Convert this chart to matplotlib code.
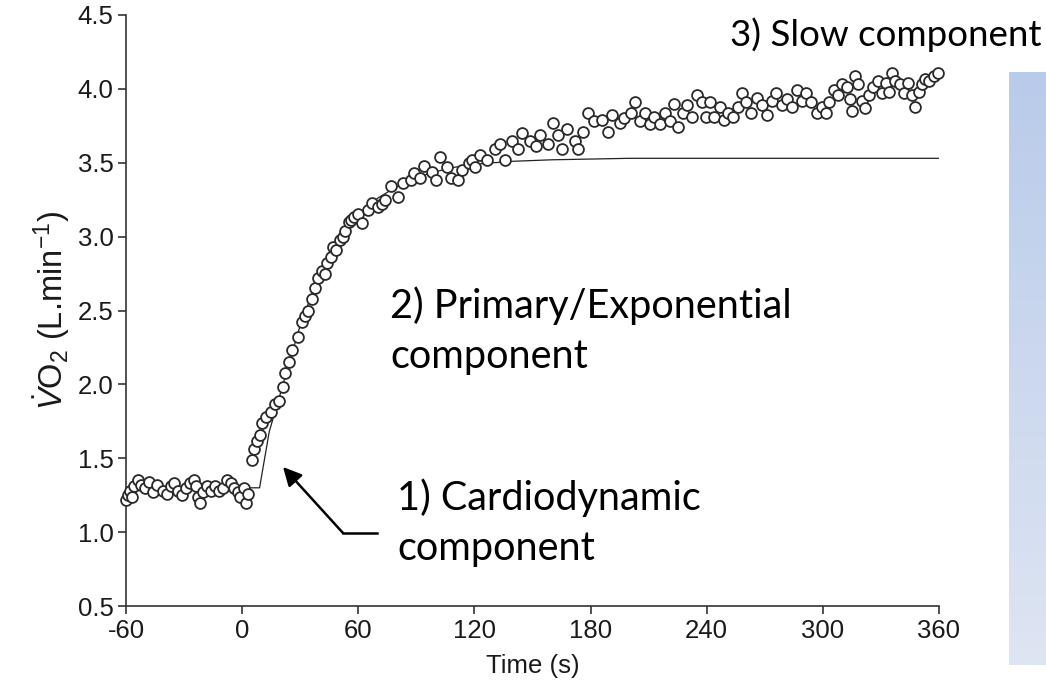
import numpy as np
import matplotlib
matplotlib.use("Agg")
import matplotlib.pyplot as plt

# breath-by-breath VO2 readings (time in s, VO2 in L/min)
time_s = [
    -60, -59, -58, -57, -56, -54, -52, -50, -48, -46, -44, -41, -39, -37, -35, -33,
    -31, -29, -27, -25, -24, -23, -22, -20, -18, -16, -14, -12, -10, -8, -6, -4,
    -2, -1, 1, 2, 3,
    5, 6, 7.5, 9, 10, 12.5, 15, 17, 19, 21, 22, 24, 26, 29, 31, 32.5, 34, 36, 37.5,
    39, 41, 43, 44, 46, 47, 48.5, 50.5, 52, 53, 55, 56, 58, 60, 62, 65, 67, 70, 72,
    74, 77, 80.5, 83, 87, 89, 92, 94, 98, 100, 102, 106, 108, 111.5, 113.5, 117, 119,
    120.5, 123, 126.5, 130.5, 133, 136, 139.5, 142.5, 144.5, 148.5, 152, 154, 158,
    160.5, 163, 165, 168, 172, 173.5, 176, 178.5, 182, 186, 189, 191, 195, 197.5,
    201, 203, 205.5, 208, 210.5, 213, 216, 218.5, 221, 223, 225, 227.5, 230, 232.5,
    235, 237.5, 239.5, 241.5, 244, 247, 249, 251, 253.5, 256, 258, 260.5, 263, 266,
    268.5, 271, 273.5, 276, 279, 281.5, 284, 286.5, 289, 291.5, 294, 297, 299.5,
    301.5, 303, 305.5, 308, 310, 312.5, 314, 315, 316.5, 318, 320, 322, 324, 326,
    328.5, 330.5, 332.5, 334, 335.5, 337.5, 340, 342, 344, 346, 347.5, 349.5, 351,
    353, 355, 357.5, 359.5,
]
vo2 = [
    1.22, 1.25, 1.28, 1.24, 1.31, 1.35, 1.32, 1.30, 1.34, 1.27, 1.32, 1.28, 1.26, 1.31, 1.33, 1.28,
    1.25, 1.30, 1.33, 1.35, 1.31, 1.24, 1.20, 1.27, 1.31, 1.28, 1.31, 1.28, 1.30, 1.35, 1.33, 1.30,
    1.27, 1.24, 1.30, 1.20, 1.26,
    1.49, 1.56, 1.62, 1.66, 1.74, 1.78, 1.81, 1.87, 1.89, 1.98, 2.08, 2.15, 2.23, 2.32, 2.42, 2.46, 2.50, 2.58, 2.65,
    2.72, 2.77, 2.75, 2.82, 2.86, 2.93, 2.91, 2.98, 3.00, 3.04, 3.10, 3.11, 3.13, 3.15, 3.09, 3.18, 3.23, 3.20, 3.22,
    3.25, 3.34, 3.27, 3.36, 3.38, 3.43, 3.40, 3.48, 3.44, 3.38, 3.54, 3.47, 3.40, 3.38, 3.45, 3.50, 3.52,
    3.47, 3.55, 3.52, 3.59, 3.63, 3.52, 3.65, 3.59, 3.70, 3.65, 3.61, 3.69, 3.63,
    3.77, 3.69, 3.59, 3.73, 3.65, 3.59, 3.71, 3.84, 3.78, 3.79, 3.71, 3.82, 3.77, 3.80,
    3.84, 3.91, 3.78, 3.84, 3.76, 3.81, 3.76, 3.84, 3.78, 3.90, 3.74, 3.84, 3.89, 3.81,
    3.96, 3.91, 3.81, 3.91, 3.81, 3.88, 3.79, 3.84, 3.81, 3.88, 3.97, 3.91, 3.84, 3.94,
    3.89, 3.82, 3.92, 3.97, 3.89, 3.93, 3.88, 3.99, 3.92, 3.97, 3.91, 3.84, 3.88,
    3.84, 3.91, 3.99, 3.96, 4.03, 4.01, 3.93, 3.85, 4.09, 4.03, 3.92, 3.87, 3.96, 4.01,
    4.05, 3.97, 4.04, 3.98, 4.11, 4.05, 4.03, 3.97, 4.04, 3.96, 3.88, 3.98, 4.03,
    4.07, 4.05, 4.09, 4.11,
]

# model fit (baseline, cardiodynamic step, primary exponential)
fit_time = [-60, 9, 14, 20, 30, 40, 50, 60, 70, 80, 90, 100, 110, 120, 140, 160, 200, 360]
fit_vo2 = [1.30, 1.30, 1.68, 1.95, 2.40, 2.75, 2.98, 3.14, 3.26, 3.34, 3.40, 3.44, 3.47, 3.49, 3.51, 3.52, 3.53, 3.53]

x_ticks = [-60, 0, 60, 120, 180, 240, 300, 360]
y_ticks = [0.5, 1.0, 1.5, 2.0, 2.5, 3.0, 3.5, 4.0, 4.5]

W, H = 1046, 685


def fx(px):
    return px / W


def fy(py):
    return 1 - py / H


plt.rcParams["font.family"] = ["Liberation Sans", "DejaVu Sans"]
plt.rcParams["axes.unicode_minus"] = False
plt.rcParams["mathtext.fontset"] = "custom"
plt.rcParams["mathtext.rm"] = "Liberation Sans"
plt.rcParams["mathtext.it"] = "Liberation Sans:italic"

fig = plt.figure(figsize=(W / 100, H / 100), dpi=100)
ax = fig.add_axes([fx(126), fy(606), fx(939) - fx(126), fy(15) - fy(606)])

ax.plot(fit_time, fit_vo2, color="#222222", lw=0.9, zorder=2)
ax.plot(time_s, vo2, linestyle="none", marker="o", markersize=7.8,
        markerfacecolor="white", markeredgecolor="#2a2a2a", markeredgewidth=1.3,
        clip_on=False, zorder=3)

ax.set_xlim(-60, 360)
ax.set_ylim(0.5, 4.5)
ax.set_xticks(x_ticks)
ax.set_yticks(y_ticks)
ax.set_yticklabels([f"{v:.1f}" for v in y_ticks])
for side in ["top", "right"]:
    ax.spines[side].set_visible(False)
for side in ["left", "bottom"]:
    ax.spines[side].set_color("#333333")
    ax.spines[side].set_linewidth(1.2)
ax.tick_params(direction="out", length=6, width=1.2, color="#333333",
               labelsize=18.5, labelcolor="#1a1a1a", pad=3)
ax.set_xlabel("Time (s)", fontsize=18.5, color="#1a1a1a", labelpad=8)
ax.set_ylabel(r"$\dot{V}$O$_2$ (L.min$^{-1}$)", fontsize=23.5, color="#1a1a1a", labelpad=4)

# light blue gradient strip on the right
strip = fig.add_axes([fx(1009), fy(665), fx(1046) - fx(1009), fy(72) - fy(665)])
top = np.array([0xB9, 0xCB, 0xEA]) / 255
bot = np.array([0xDE, 0xE5, 0xF3]) / 255
grad = np.linspace(0, 1, 200)[:, None, None] * (bot - top) + top
strip.imshow(grad, aspect="auto", extent=[0, 1, 0, 1])
strip.axis("off")

anno = dict(family=["Lato", "DejaVu Sans"], color="black", ha="left", va="baseline")
fig.text(fx(730), fy(46), "3) Slow component", fontsize=26.5, **anno)
fig.text(fx(390), fy(318), "2) Primary/Exponential", fontsize=28.5, **anno)
fig.text(fx(390), fy(368), "component", fontsize=28.5, **anno)
fig.text(fx(397), fy(510), "1) Cardiodynamic", fontsize=28.5, **anno)
fig.text(fx(397), fy(560), "component", fontsize=28.5, **anno)

# elbow arrow pointing at the cardiodynamic step
fig.add_artist(plt.Line2D([fx(343), fx(377)], [fy(533), fy(533)],
                          transform=fig.transFigure, color="black", lw=1.8))
fig.add_artist(matplotlib.patches.FancyArrowPatch(
    (fx(343), fy(533)), (fx(283), fy(467)), transform=fig.transFigure,
    arrowstyle="-|>", mutation_scale=28, lw=1.8, color="black",
    shrinkA=0, shrinkB=0))

fig.savefig("out.png", dpi=100)
